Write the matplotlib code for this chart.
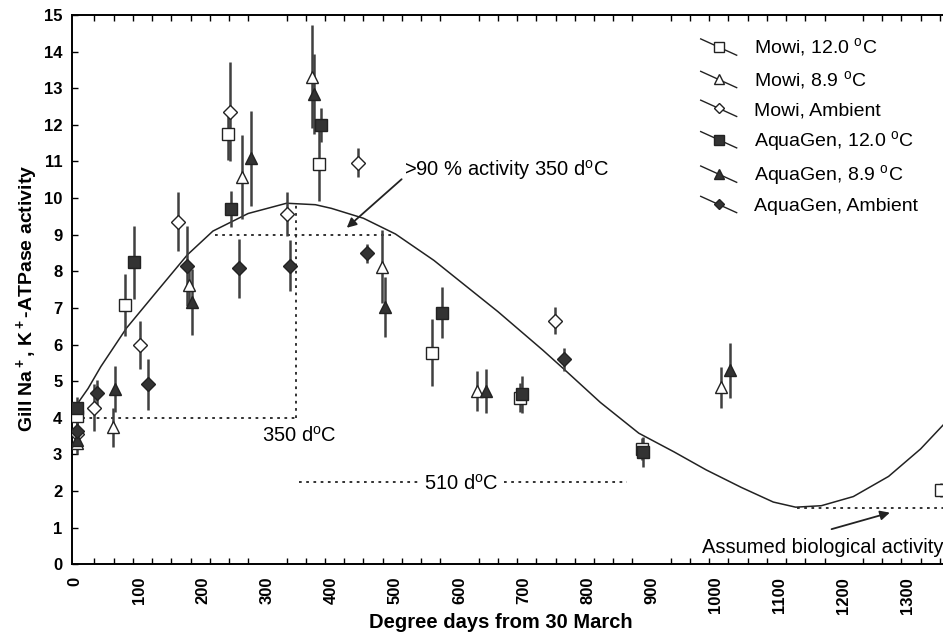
import numpy as np
import matplotlib
matplotlib.use("Agg")
import matplotlib.pyplot as plt
from matplotlib.legend_handler import HandlerLine2D
from matplotlib.ticker import MultipleLocator

plt.rcParams['font.family'] = ['Liberation Sans', 'DejaVu Sans']
plt.rcParams['mathtext.fontset'] = 'custom'
plt.rcParams['mathtext.rm'] = 'Liberation Sans'
plt.rcParams['mathtext.bf'] = 'Liberation Sans:bold'

# series: x (degree days), y (activity), err
mowi12_x = [2, 78, 239, 380, 557, 694, 885, 1352]
mowi12_y = [4.05, 7.08, 11.74, 10.92, 5.78, 4.55, 3.15, 2.03]
mowi12_e = [0.3, 0.85, 0.7, 1.0, 0.92, 0.4, 0.3, 0.2]

mowi89_x = [2, 59, 178, 261, 370, 479, 628, 1008]
mowi89_y = [3.3, 3.74, 7.63, 10.58, 13.32, 8.13, 4.74, 4.83]
mowi89_e = [0.3, 0.54, 0.55, 1.15, 1.4, 1.0, 0.55, 0.55]

mowiamb_x = [2, 30, 101, 161, 241, 331, 442, 749]
mowiamb_y = [3.55, 4.28, 5.99, 9.36, 12.36, 9.57, 10.97, 6.65]
mowiamb_e = [0.3, 0.65, 0.65, 0.8, 1.35, 0.6, 0.4, 0.37]

aqua12_x = [2, 92, 243, 383, 572, 698, 887]
aqua12_y = [4.27, 8.25, 9.70, 12.0, 6.87, 4.64, 3.07]
aqua12_e = [0.3, 1.0, 0.5, 0.47, 0.7, 0.5, 0.4]

aqua89_x = [2, 62, 182, 275, 373, 483, 642, 1023]
aqua89_y = [3.4, 4.78, 7.17, 11.09, 12.84, 7.03, 4.74, 5.3]
aqua89_e = [0.25, 0.63, 0.9, 1.3, 1.1, 0.82, 0.6, 0.75]

aquaamb_x = [2, 34, 114, 174, 255, 335, 455, 763]
aquaamb_y = [3.65, 4.67, 4.92, 8.15, 8.08, 8.15, 8.49, 5.6]
aquaamb_e = [0.35, 0.35, 0.7, 1.1, 0.8, 0.7, 0.25, 0.32]

# fitted curve
curve_x = [0, 20, 40, 80, 125, 175, 215, 270, 330, 375, 400, 450, 500, 560, 610,
           660, 730, 765, 820, 880, 935, 985, 1040, 1090, 1125, 1165, 1215, 1270,
           1320, 1355]
curve_y = [4.3, 4.8, 5.4, 6.45, 7.4, 8.45, 9.1, 9.58, 9.86, 9.82, 9.72, 9.45,
           9.02, 8.3, 7.6, 6.9, 5.85, 5.3, 4.42, 3.58, 3.07, 2.58, 2.1, 1.7, 1.56,
           1.6, 1.85, 2.4, 3.15, 3.8]


class SlantHandler(HandlerLine2D):
    def create_artists(self, legend, orig_handle, xdescent, ydescent,
                       width, height, fontsize, trans):
        arts = super().create_artists(legend, orig_handle, xdescent, ydescent,
                                      width, height, fontsize, trans)
        for a in arts:
            y = np.asarray(a.get_ydata(), dtype=float)
            if len(y) == 3:
                ym = y[1]
                a.set_ydata([ym + 0.6 * height, ym, ym - 0.6 * height])
        return arts


fig = plt.figure(figsize=(9.43, 6.39), dpi=100)
ax = fig.add_axes([0.0764, 0.1169, 0.9236, 0.8596])

ax.plot(curve_x, curve_y, color='#222222', lw=1.1, zorder=2)

ecol = '#404040'
fill = '#333333'
series = [
    (mowi12_x, mowi12_y, mowi12_e, 's', 'white', 'Mowi, 12.0 $^{\\rm o}$C', 8.5),
    (mowi89_x, mowi89_y, mowi89_e, '^', 'white', 'Mowi, 8.9 $^{\\rm o}$C', 9),
    (mowiamb_x, mowiamb_y, mowiamb_e, 'D', 'white', 'Mowi, Ambient', 7),
    (aqua12_x, aqua12_y, aqua12_e, 's', fill, 'AquaGen, 12.0 $^{\\rm o}$C', 9),
    (aqua89_x, aqua89_y, aqua89_e, '^', fill, 'AquaGen, 8.9 $^{\\rm o}$C', 9),
    (aquaamb_x, aquaamb_y, aquaamb_e, 'D', fill, 'AquaGen, Ambient', 7),
]
handles = []
for xs, ys, es, mk, fc, lab, ms in series:
    ax.errorbar(xs, ys, yerr=es, fmt='none', ecolor=ecol, elinewidth=1.8,
                capsize=0, zorder=3)
    ax.plot(xs, ys, ls='none', marker=mk, ms=ms, mfc=fc, mec='#222222',
            mew=1.0, zorder=4)
    h, = ax.plot([], [], ls='-', color='#222222', lw=1.0, marker=mk, ms=ms * 0.8,
                 mfc=fc, mec='#222222', mew=1.0, label=lab)
    handles.append(h)

# dotted guide lines
dots = (0, (1.5, 2.5))
ax.plot([218, 495], [9.0, 9.0], ls=dots, color='#222222', lw=1.3)
ax.plot([0, 344], [4.0, 4.0], ls=dots, color='#222222', lw=1.3)
ax.plot([344, 344], [4.0, 9.85], ls=dots, color='#222222', lw=1.3)
ax.plot([350, 537], [2.25, 2.25], ls=dots, color='#222222', lw=1.3)
ax.plot([670, 862], [2.25, 2.25], ls=dots, color='#222222', lw=1.3)
ax.plot([1127, 1360], [1.55, 1.55], ls=dots, color='#222222', lw=1.3)

tsize = 14.5
ax.text(291, 3.5, '350 d$^{\\rm o}$C', fontsize=tsize, va='center', ha='left')
ax.text(603, 2.2, '510 d$^{\\rm o}$C', fontsize=tsize, va='center', ha='center')
ax.text(978, 0.45, 'Assumed biological activity', fontsize=tsize, va='center',
        ha='left', clip_on=False)
ax.annotate('>90 % activity 350 d$^{\\rm o}$C', xy=(424, 9.19), xytext=(514, 10.78),
            fontsize=tsize, va='center', ha='left',
            arrowprops=dict(arrowstyle='-|>', color='#222222', lw=1.3,
                            shrinkA=0, shrinkB=0, mutation_scale=14,
                            relpos=(0.0, 0.2)))
ax.annotate('', xy=(1272, 1.41), xytext=(1181, 0.96),
            arrowprops=dict(arrowstyle='-|>', color='#222222', lw=1.3,
                            shrinkA=0, shrinkB=0, mutation_scale=14))

ax.set_xlim(-5, 1355)
ax.set_ylim(0, 15)
ax.spines['right'].set_visible(False)
for s in ['left', 'bottom', 'top']:
    ax.spines[s].set_linewidth(1.4)

ax.xaxis.set_major_locator(MultipleLocator(100))
ax.xaxis.set_minor_locator(MultipleLocator(30))
ax.yaxis.set_major_locator(MultipleLocator(1))
ax.tick_params(axis='x', which='major', direction='in', length=0, pad=9,
               labelrotation=90, labelsize=12, top=False)
ax.tick_params(axis='x', which='minor', direction='in', length=4, width=1.0,
               top=True)
ax.tick_params(axis='y', which='major', direction='in', length=4, width=1.0,
               labelsize=12, pad=7)
for lbl in ax.get_xticklabels() + ax.get_yticklabels():
    lbl.set_fontweight('bold')

ax.set_xlabel('Degree days from 30 March', fontsize=14.5, fontweight='bold')
ax.set_ylabel('Gill Na$^{\\bf +}$, K$^{\\bf +}$-ATPase activity', fontsize=14,
              fontweight='bold')
ax.xaxis.set_label_coords(0.4925, -0.089)
ax.yaxis.set_label_coords(-0.036, 0.484)

ax.legend(handles=handles, loc='upper left', bbox_to_anchor=(0.7245, 0.97),
          bbox_transform=fig.transFigure, frameon=False, fontsize=14,
          numpoints=1, handlelength=1.85, handletextpad=0.9, labelspacing=0.5,
          handler_map={h: SlantHandler() for h in handles})

fig.savefig('out.png', dpi=100)
